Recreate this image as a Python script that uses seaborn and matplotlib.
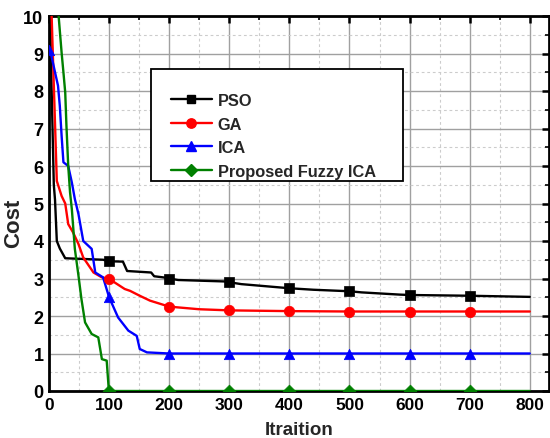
import numpy as np
import pandas as pd
import matplotlib
matplotlib.use("Agg")
import matplotlib.pyplot as plt
from matplotlib.lines import Line2D
from matplotlib.patches import Rectangle
from matplotlib.ticker import MultipleLocator
import seaborn as sns

# ---- data ----
pso_x = [0, 3, 8, 10, 13, 18, 27, 90, 100, 123, 130, 170, 175, 195, 200, 215, 295, 300, 320, 400, 440, 500, 520, 584, 600, 700, 800]
pso_y = [12, 9, 5.5, 5.1, 4.0, 3.8, 3.54, 3.5, 3.46, 3.45, 3.2, 3.16, 3.06, 3.02, 3.0, 2.96, 2.92, 2.9, 2.85, 2.74, 2.7, 2.66, 2.63, 2.57, 2.56, 2.54, 2.51]

ga_x = [0, 4, 13, 21, 27, 32, 40, 49, 57, 74, 88, 100, 126, 135, 151, 168, 200, 250, 300, 400, 500, 600, 700, 800]
ga_y = [12, 10.2, 5.6, 5.2, 5.0, 4.45, 4.23, 3.92, 3.56, 3.16, 3.03, 2.99, 2.72, 2.67, 2.54, 2.41, 2.25, 2.18, 2.15, 2.13, 2.12, 2.12, 2.12, 2.12]

ica_x = [0, 4, 10, 15, 18, 21, 24, 32, 38, 43, 49, 57, 71, 77, 90, 100, 115, 132, 146, 151, 163, 200, 300, 400, 500, 600, 700, 800]
ica_y = [9.1, 8.94, 8.5, 8.14, 7.6, 6.8, 6.1, 6.0, 5.56, 5.12, 4.72, 4.0, 3.79, 3.16, 3.03, 2.5, 1.96, 1.61, 1.47, 1.12, 1.03, 1.0, 1.0, 1.0, 1.0, 1.0, 1.0, 1.0]

fica_x = [0, 16, 21, 24, 27, 29, 32, 35, 38, 43, 49, 54, 60, 71, 82, 88, 96, 99, 100, 200, 300, 400, 500, 600, 700, 800]
fica_y = [30, 10, 9.02, 8.5, 7.96, 7.08, 6.0, 5.3, 4.85, 3.79, 3.08, 2.45, 1.83, 1.52, 1.43, 0.85, 0.81, 0.14, 0.0, 0.0, 0.0, 0.0, 0.0, 0.0, 0.0, 0.0]

labels = ["PSO", "GA", "ICA", "Proposed Fuzzy ICA"]
colors = ["#000000", "#ff0000", "#0000ff", "#008000"]
markers = ["s", "o", "^", "D"]
msizes = [6.5, 7.5, 7.5, 6.5]
marker_iters = [0, 100, 200, 300, 400, 500, 600, 700]
x_ticks = [0, 100, 200, 300, 400, 500, 600, 700, 800]
y_ticks = [0, 1, 2, 3, 4, 5, 6, 7, 8, 9, 10]

series = [(pso_x, pso_y), (ga_x, ga_y), (ica_x, ica_y), (fica_x, fica_y)]

sns.set_theme(style="white")
plt.rcParams["font.family"] = ["Liberation Sans", "DejaVu Sans"]
plt.rcParams["font.weight"] = "bold"
plt.rcParams["axes.labelweight"] = "bold"

fig = plt.figure(figsize=(5.5, 4.39), dpi=100)
ax = fig.add_axes([49 / 550, 1 - 392 / 439, 500 / 550, 375 / 439])

ax.set_xlim(0, 832)
ax.set_ylim(0, 10)
ax.xaxis.set_major_locator(MultipleLocator(100))
ax.xaxis.set_minor_locator(MultipleLocator(50))
ax.yaxis.set_major_locator(MultipleLocator(1))
ax.yaxis.set_minor_locator(MultipleLocator(0.5))
ax.grid(which="major", color="#a0a0a0", lw=1.0, ls="-", zorder=0)
ax.grid(which="minor", color="#cccccc", lw=0.8, ls=(0, (2.5, 2.5)), zorder=0)
ax.set_axisbelow(True)

handles = []
for (xs, ys), lab, c, m, ms in zip(series, labels, colors, markers, msizes):
    df = pd.DataFrame({"x": xs, "y": ys})
    sns.lineplot(data=df, x="x", y="y", ax=ax, color=c, lw=1.7,
                 estimator=None, sort=False, legend=False, zorder=3)
    my = np.interp(marker_iters, xs, ys)
    mdf = pd.DataFrame({"x": marker_iters, "y": my})
    mdf = mdf[mdf["y"] <= 10.2]
    sns.scatterplot(data=mdf, x="x", y="y", ax=ax, color=c, marker=m,
                    s=ms ** 2, edgecolor=c, linewidth=0.5, legend=False,
                    zorder=4, clip_on=True)
    handles.append(Line2D([0], [0], color=c, lw=1.7, marker=m,
                          markersize=ms * 0.9, markeredgecolor=c))

ax.set_xticks(x_ticks)
ax.set_yticks(y_ticks)
ax.set_xticklabels([str(v) for v in x_ticks], fontsize=12.5, fontweight="bold")
ax.set_yticklabels([str(v) for v in y_ticks], fontsize=13, fontweight="bold")
ax.set_xlabel("Itraition", fontsize=13.5, fontweight="bold", labelpad=6)
ax.set_ylabel("Cost", fontsize=16, fontweight="bold")
ax.yaxis.set_label_coords(-0.050, 0.45)

ax.tick_params(which="major", direction="in", length=5, width=1.8,
               top=True, right=True, pad=4.5, colors="black")
ax.tick_params(which="minor", direction="in", length=3, width=1.2,
               top=True, right=True, colors="black")
ax.tick_params(axis="y", which="major", pad=4)
for sp in ax.spines.values():
    sp.set_linewidth(2)
    sp.set_color("black")

# legend frame
fig.patches.append(Rectangle((151 / 550, 1 - 182 / 439), 252 / 550, 112 / 439,
                             transform=fig.transFigure, facecolor="white",
                             edgecolor="black", lw=1.3, zorder=5))
leg = fig.legend(handles, labels, loc="upper left",
                 bbox_to_anchor=(171 / 550, 1 - 94 / 439),
                 frameon=False, handlelength=2.5,
                 handletextpad=0.35, labelspacing=0.52, borderpad=0,
                 borderaxespad=0, prop={"weight": "bold", "size": 11.8})
leg.set_zorder(6)

fig.savefig("out.png", dpi=100)
